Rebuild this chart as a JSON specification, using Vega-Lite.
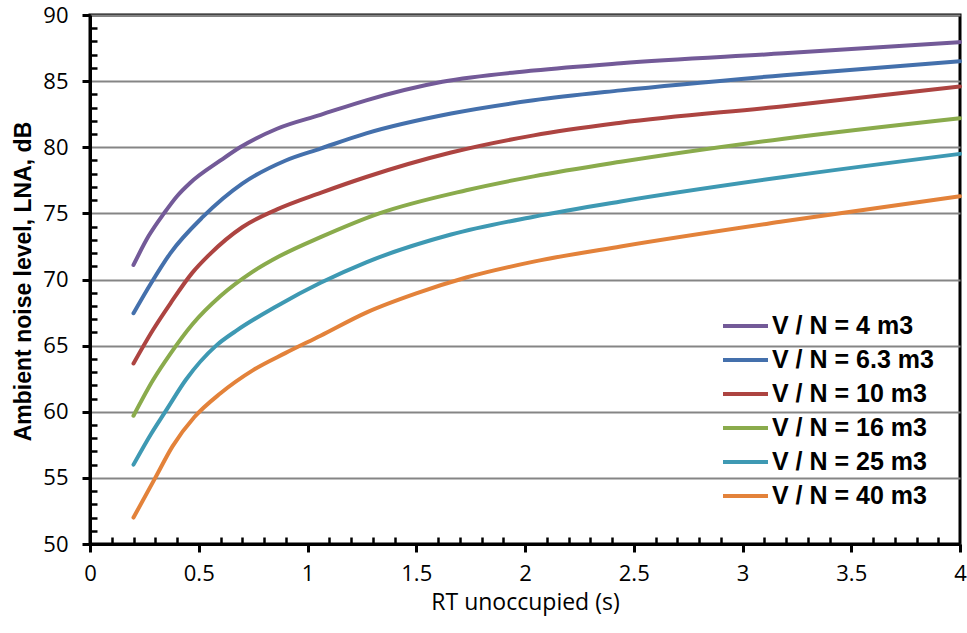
{
  "$schema": "https://vega.github.io/schema/vega-lite/v6.json",
  "width": 870,
  "height": 529,
  "autosize": {"type": "none"},
  "padding": {"left": 90, "top": 15, "right": 7, "bottom": 89},
  "background": "white",
  "config": {
    "view": {"stroke": "black", "strokeWidth": 3},
    "axis": {"labelFont": "Open Sans", "titleFont": "Open Sans", "labelColor": "black", "titleColor": "black"}
  },
  "datasets": {
    "curves": [
      {"rt": 0.2, "L": 71.1, "s": "V / N = 4 m3"},
      {"rt": 0.27, "L": 73.3, "s": "V / N = 4 m3"},
      {"rt": 0.34, "L": 75.0, "s": "V / N = 4 m3"},
      {"rt": 0.4, "L": 76.3, "s": "V / N = 4 m3"},
      {"rt": 0.46, "L": 77.3, "s": "V / N = 4 m3"},
      {"rt": 0.6, "L": 79.0, "s": "V / N = 4 m3"},
      {"rt": 0.69, "L": 80.0, "s": "V / N = 4 m3"},
      {"rt": 0.86, "L": 81.4, "s": "V / N = 4 m3"},
      {"rt": 1.06, "L": 82.45, "s": "V / N = 4 m3"},
      {"rt": 1.27, "L": 83.55, "s": "V / N = 4 m3"},
      {"rt": 1.62, "L": 84.95, "s": "V / N = 4 m3"},
      {"rt": 2.04, "L": 85.8, "s": "V / N = 4 m3"},
      {"rt": 2.44, "L": 86.35, "s": "V / N = 4 m3"},
      {"rt": 3.19, "L": 87.1, "s": "V / N = 4 m3"},
      {"rt": 4.0, "L": 87.95, "s": "V / N = 4 m3"},

      {"rt": 0.2, "L": 67.45, "s": "V / N = 6.3 m3"},
      {"rt": 0.28, "L": 69.7, "s": "V / N = 6.3 m3"},
      {"rt": 0.37, "L": 72.0, "s": "V / N = 6.3 m3"},
      {"rt": 0.52, "L": 74.75, "s": "V / N = 6.3 m3"},
      {"rt": 0.7, "L": 77.25, "s": "V / N = 6.3 m3"},
      {"rt": 0.9, "L": 79.0, "s": "V / N = 6.3 m3"},
      {"rt": 1.06, "L": 79.9, "s": "V / N = 6.3 m3"},
      {"rt": 1.27, "L": 81.05, "s": "V / N = 6.3 m3"},
      {"rt": 1.66, "L": 82.55, "s": "V / N = 6.3 m3"},
      {"rt": 2.04, "L": 83.55, "s": "V / N = 6.3 m3"},
      {"rt": 2.44, "L": 84.3, "s": "V / N = 6.3 m3"},
      {"rt": 3.19, "L": 85.45, "s": "V / N = 6.3 m3"},
      {"rt": 4.0, "L": 86.5, "s": "V / N = 6.3 m3"},

      {"rt": 0.2, "L": 63.65, "s": "V / N = 10 m3"},
      {"rt": 0.29, "L": 66.2, "s": "V / N = 10 m3"},
      {"rt": 0.37, "L": 68.2, "s": "V / N = 10 m3"},
      {"rt": 0.47, "L": 70.5, "s": "V / N = 10 m3"},
      {"rt": 0.55, "L": 71.9, "s": "V / N = 10 m3"},
      {"rt": 0.7, "L": 73.95, "s": "V / N = 10 m3"},
      {"rt": 0.86, "L": 75.3, "s": "V / N = 10 m3"},
      {"rt": 1.06, "L": 76.55, "s": "V / N = 10 m3"},
      {"rt": 1.27, "L": 77.75, "s": "V / N = 10 m3"},
      {"rt": 1.66, "L": 79.6, "s": "V / N = 10 m3"},
      {"rt": 2.04, "L": 80.9, "s": "V / N = 10 m3"},
      {"rt": 2.44, "L": 81.85, "s": "V / N = 10 m3"},
      {"rt": 3.19, "L": 83.1, "s": "V / N = 10 m3"},
      {"rt": 4.0, "L": 84.6, "s": "V / N = 10 m3"},

      {"rt": 0.2, "L": 59.7, "s": "V / N = 16 m3"},
      {"rt": 0.29, "L": 62.4, "s": "V / N = 16 m3"},
      {"rt": 0.37, "L": 64.4, "s": "V / N = 16 m3"},
      {"rt": 0.47, "L": 66.6, "s": "V / N = 16 m3"},
      {"rt": 0.6, "L": 68.75, "s": "V / N = 16 m3"},
      {"rt": 0.74, "L": 70.5, "s": "V / N = 16 m3"},
      {"rt": 0.87, "L": 71.75, "s": "V / N = 16 m3"},
      {"rt": 1.06, "L": 73.2, "s": "V / N = 16 m3"},
      {"rt": 1.33, "L": 75.0, "s": "V / N = 16 m3"},
      {"rt": 1.73, "L": 76.75, "s": "V / N = 16 m3"},
      {"rt": 2.04, "L": 77.8, "s": "V / N = 16 m3"},
      {"rt": 2.44, "L": 78.9, "s": "V / N = 16 m3"},
      {"rt": 3.19, "L": 80.65, "s": "V / N = 16 m3"},
      {"rt": 4.0, "L": 82.2, "s": "V / N = 16 m3"},

      {"rt": 0.2, "L": 56.0, "s": "V / N = 25 m3"},
      {"rt": 0.28, "L": 58.3, "s": "V / N = 25 m3"},
      {"rt": 0.35, "L": 60.1, "s": "V / N = 25 m3"},
      {"rt": 0.44, "L": 62.4, "s": "V / N = 25 m3"},
      {"rt": 0.58, "L": 65.0, "s": "V / N = 25 m3"},
      {"rt": 0.67, "L": 66.1, "s": "V / N = 25 m3"},
      {"rt": 0.86, "L": 68.0, "s": "V / N = 25 m3"},
      {"rt": 1.06, "L": 69.75, "s": "V / N = 25 m3"},
      {"rt": 1.27, "L": 71.3, "s": "V / N = 25 m3"},
      {"rt": 1.66, "L": 73.4, "s": "V / N = 25 m3"},
      {"rt": 2.04, "L": 74.75, "s": "V / N = 25 m3"},
      {"rt": 2.44, "L": 75.9, "s": "V / N = 25 m3"},
      {"rt": 3.19, "L": 77.75, "s": "V / N = 25 m3"},
      {"rt": 4.0, "L": 79.5, "s": "V / N = 25 m3"},

      {"rt": 0.2, "L": 52.0, "s": "V / N = 40 m3"},
      {"rt": 0.3, "L": 55.0, "s": "V / N = 40 m3"},
      {"rt": 0.38, "L": 57.4, "s": "V / N = 40 m3"},
      {"rt": 0.48, "L": 59.6, "s": "V / N = 40 m3"},
      {"rt": 0.6, "L": 61.4, "s": "V / N = 40 m3"},
      {"rt": 0.75, "L": 63.15, "s": "V / N = 40 m3"},
      {"rt": 0.9, "L": 64.45, "s": "V / N = 40 m3"},
      {"rt": 1.06, "L": 65.75, "s": "V / N = 40 m3"},
      {"rt": 1.27, "L": 67.5, "s": "V / N = 40 m3"},
      {"rt": 1.5, "L": 68.95, "s": "V / N = 40 m3"},
      {"rt": 1.73, "L": 70.15, "s": "V / N = 40 m3"},
      {"rt": 2.04, "L": 71.35, "s": "V / N = 40 m3"},
      {"rt": 2.44, "L": 72.5, "s": "V / N = 40 m3"},
      {"rt": 3.19, "L": 74.4, "s": "V / N = 40 m3"},
      {"rt": 4.0, "L": 76.3, "s": "V / N = 40 m3"}
    ]
  },
  "data": {"name": "curves"},
  "resolve": {"axis": {"x": "independent", "y": "independent"}},
  "layer": [
    {
      "mark": {"type": "line", "opacity": 0},
      "encoding": {
        "x": {
          "field": "rt", "type": "quantitative",
          "scale": {"domain": [0, 4], "nice": false},
          "axis": {
            "orient": "bottom", "title": null, "labels": false, "domain": false, "grid": false,
            "values": [0.1,0.2,0.3,0.4,0.6,0.7,0.8,0.9,1.1,1.2,1.3,1.4,1.6,1.7,1.8,1.9,2.1,2.2,2.3,2.4,2.6,2.7,2.8,2.9,3.1,3.2,3.3,3.4,3.6,3.7,3.8,3.9],
            "tickSize": -7, "tickWidth": 2.5, "tickColor": "black"
          }
        },
        "y": {
          "field": "L", "type": "quantitative",
          "scale": {"domain": [50, 90], "nice": false, "zero": false},
          "axis": {
            "orient": "left", "title": null, "labels": false, "domain": false, "grid": false,
            "values": [51,52,53,54,56,57,58,59,61,62,63,64,66,67,68,69,71,72,73,74,76,77,78,79,81,82,83,84,86,87,88,89],
            "tickSize": -7, "tickWidth": 2.5, "tickColor": "black"
          }
        }
      }
    },
    {
      "mark": {"type": "line", "strokeWidth": 4, "interpolate": "monotone", "strokeCap": "round"},
      "encoding": {
        "x": {
          "field": "rt", "type": "quantitative",
          "scale": {"domain": [0, 4], "nice": false},
          "axis": {
            "orient": "bottom", "title": "RT unoccupied (s)",
            "values": [0, 0.5, 1, 1.5, 2, 2.5, 3, 3.5, 4], "format": "~g",
            "grid": false, "domainColor": "black", "domainWidth": 3,
            "tickColor": "black", "tickWidth": 3, "tickSize": 8,
            "labelFontSize": 22, "labelPadding": 11, "labelFlush": false,
            "titleFontSize": 23, "titleFontWeight": "normal", "titlePadding": 7
          }
        },
        "y": {
          "field": "L", "type": "quantitative",
          "scale": {"domain": [50, 90], "nice": false, "zero": false},
          "axis": {
            "orient": "left", "title": "Ambient noise level, LNA, dB",
            "values": [50, 55, 60, 65, 70, 75, 80, 85, 90],
            "grid": true, "gridColor": "#858585", "gridWidth": 2,
            "domainColor": "black", "domainWidth": 3,
            "tickColor": "black", "tickWidth": 3, "tickSize": 8,
            "labelFontSize": 22, "labelPadding": 14, "labelFlush": false,
            "titleFont": "Liberation Sans", "titleFontSize": 23, "titleFontWeight": "bold",
            "titleX": -67, "titleY": 266, "titleAlign": "center", "titleBaseline": "middle"
          }
        },
        "color": {
          "field": "s", "type": "nominal", "sort": null,
          "scale": {
            "domain": ["V / N = 4 m3", "V / N = 6.3 m3", "V / N = 10 m3", "V / N = 16 m3", "V / N = 25 m3", "V / N = 40 m3"],
            "range": ["#735a98", "#4470ac", "#ad4441", "#8aab4c", "#3e99b3", "#e3823a"]
          },
          "legend": {
            "orient": "none", "legendX": 631, "legendY": 294, "title": null,
            "symbolType": "stroke", "symbolSize": 2025, "symbolStrokeWidth": 4,
            "labelFont": "Liberation Sans", "labelFontSize": 25, "labelFontWeight": "bold", "labelColor": "black",
            "labelOffset": 2, "labelLimit": 400, "clipHeight": 34, "rowPadding": 0, "padding": 0
          }
        }
      }
    }
  ]
}
